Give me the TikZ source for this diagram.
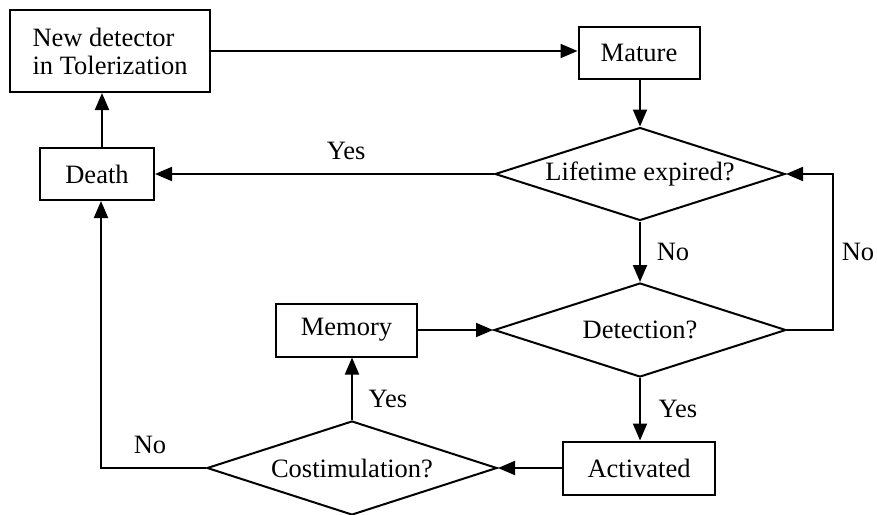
\documentclass[tikz,border=0pt]{standalone}
\usepackage{fontspec}
\setmainfont{Liberation Serif}
\usetikzlibrary{arrows.meta,shapes.geometric}

\tikzset{
  every node/.style={font=\fontsize{26.5}{28}\selectfont},
  box/.style={draw, line width=2pt, rectangle, inner sep=0pt},
  decision/.style={draw, line width=2pt, diamond, inner sep=0pt, shape aspect=3.1},
  flow/.style={line width=2pt, -{Triangle[length=17pt,width=14pt]}},
  tag/.style={inner sep=0pt, anchor=center}
}

\begin{document}
\begin{tikzpicture}[x=1pt, y=-1pt]
  \useasboundingbox (0,0) rectangle (877,514);

  % process boxes
  \node[box, minimum width=200pt, minimum height=82pt, align=left] (newdet) at (110,51)
    {New detector\\in Tolerization};
  \node[box, minimum width=121pt, minimum height=52pt] (mature) at (639,53) {Mature};
  \node[box, minimum width=114pt, minimum height=52pt] (death) at (97,174) {Death};
  \node[box, minimum width=141pt, minimum height=53pt] (memory) at (346.5,330) {Memory};
  \node[box, minimum width=152pt, minimum height=53pt] (activated) at (639,468) {Activated};

  % decisions
  \node[decision, minimum width=290pt, minimum height=93pt] (life) at (640,174) {Lifetime expired?};
  \node[decision, minimum width=292pt, minimum height=94pt] (detect) at (640,330) {Detection?};
  \node[decision, minimum width=290pt, minimum height=94pt] (costim) at (352,468) {Costimulation?};

  % routing points
  \coordinate (dx) at (102,0);
  \coordinate (nx) at (833,0);
  \coordinate (cx) at (101,0);

  % connectors
  \draw[flow] (newdet.east) -- (newdet.east -| mature.west);
  \draw[flow] (life.north |- mature.south) -- (life.north);
  \draw[flow] (life.west) -- node[tag, pos=0.436, yshift=23pt] {Yes} (death.east);
  \draw[flow] (death.north -| dx) -- (newdet.south -| dx);
  \draw[flow] (life.south) -- node[tag, midway, xshift=33pt] {No} (detect.north);
  \draw[flow] (detect.east) -- (detect.east -| nx)
    -- node[tag, midway, xshift=25pt] {No} (life.east -| nx) -- (life.east);
  \draw[flow] (memory.east) -- (detect.west);
  \draw[flow] (detect.south) -- node[tag, midway, xshift=38pt] {Yes} (detect.south |- activated.north);
  \draw[flow] (activated.west) -- (costim.east);
  \draw[flow] (costim.north) -- node[tag, pos=0.34, xshift=36pt] {Yes} (costim.north |- memory.south);
  \draw[flow] (costim.west) -- node[tag, pos=0.533, yshift=23pt] {No} (costim.west -| cx)
    -- (death.south -| cx);
\end{tikzpicture}
\end{document}
